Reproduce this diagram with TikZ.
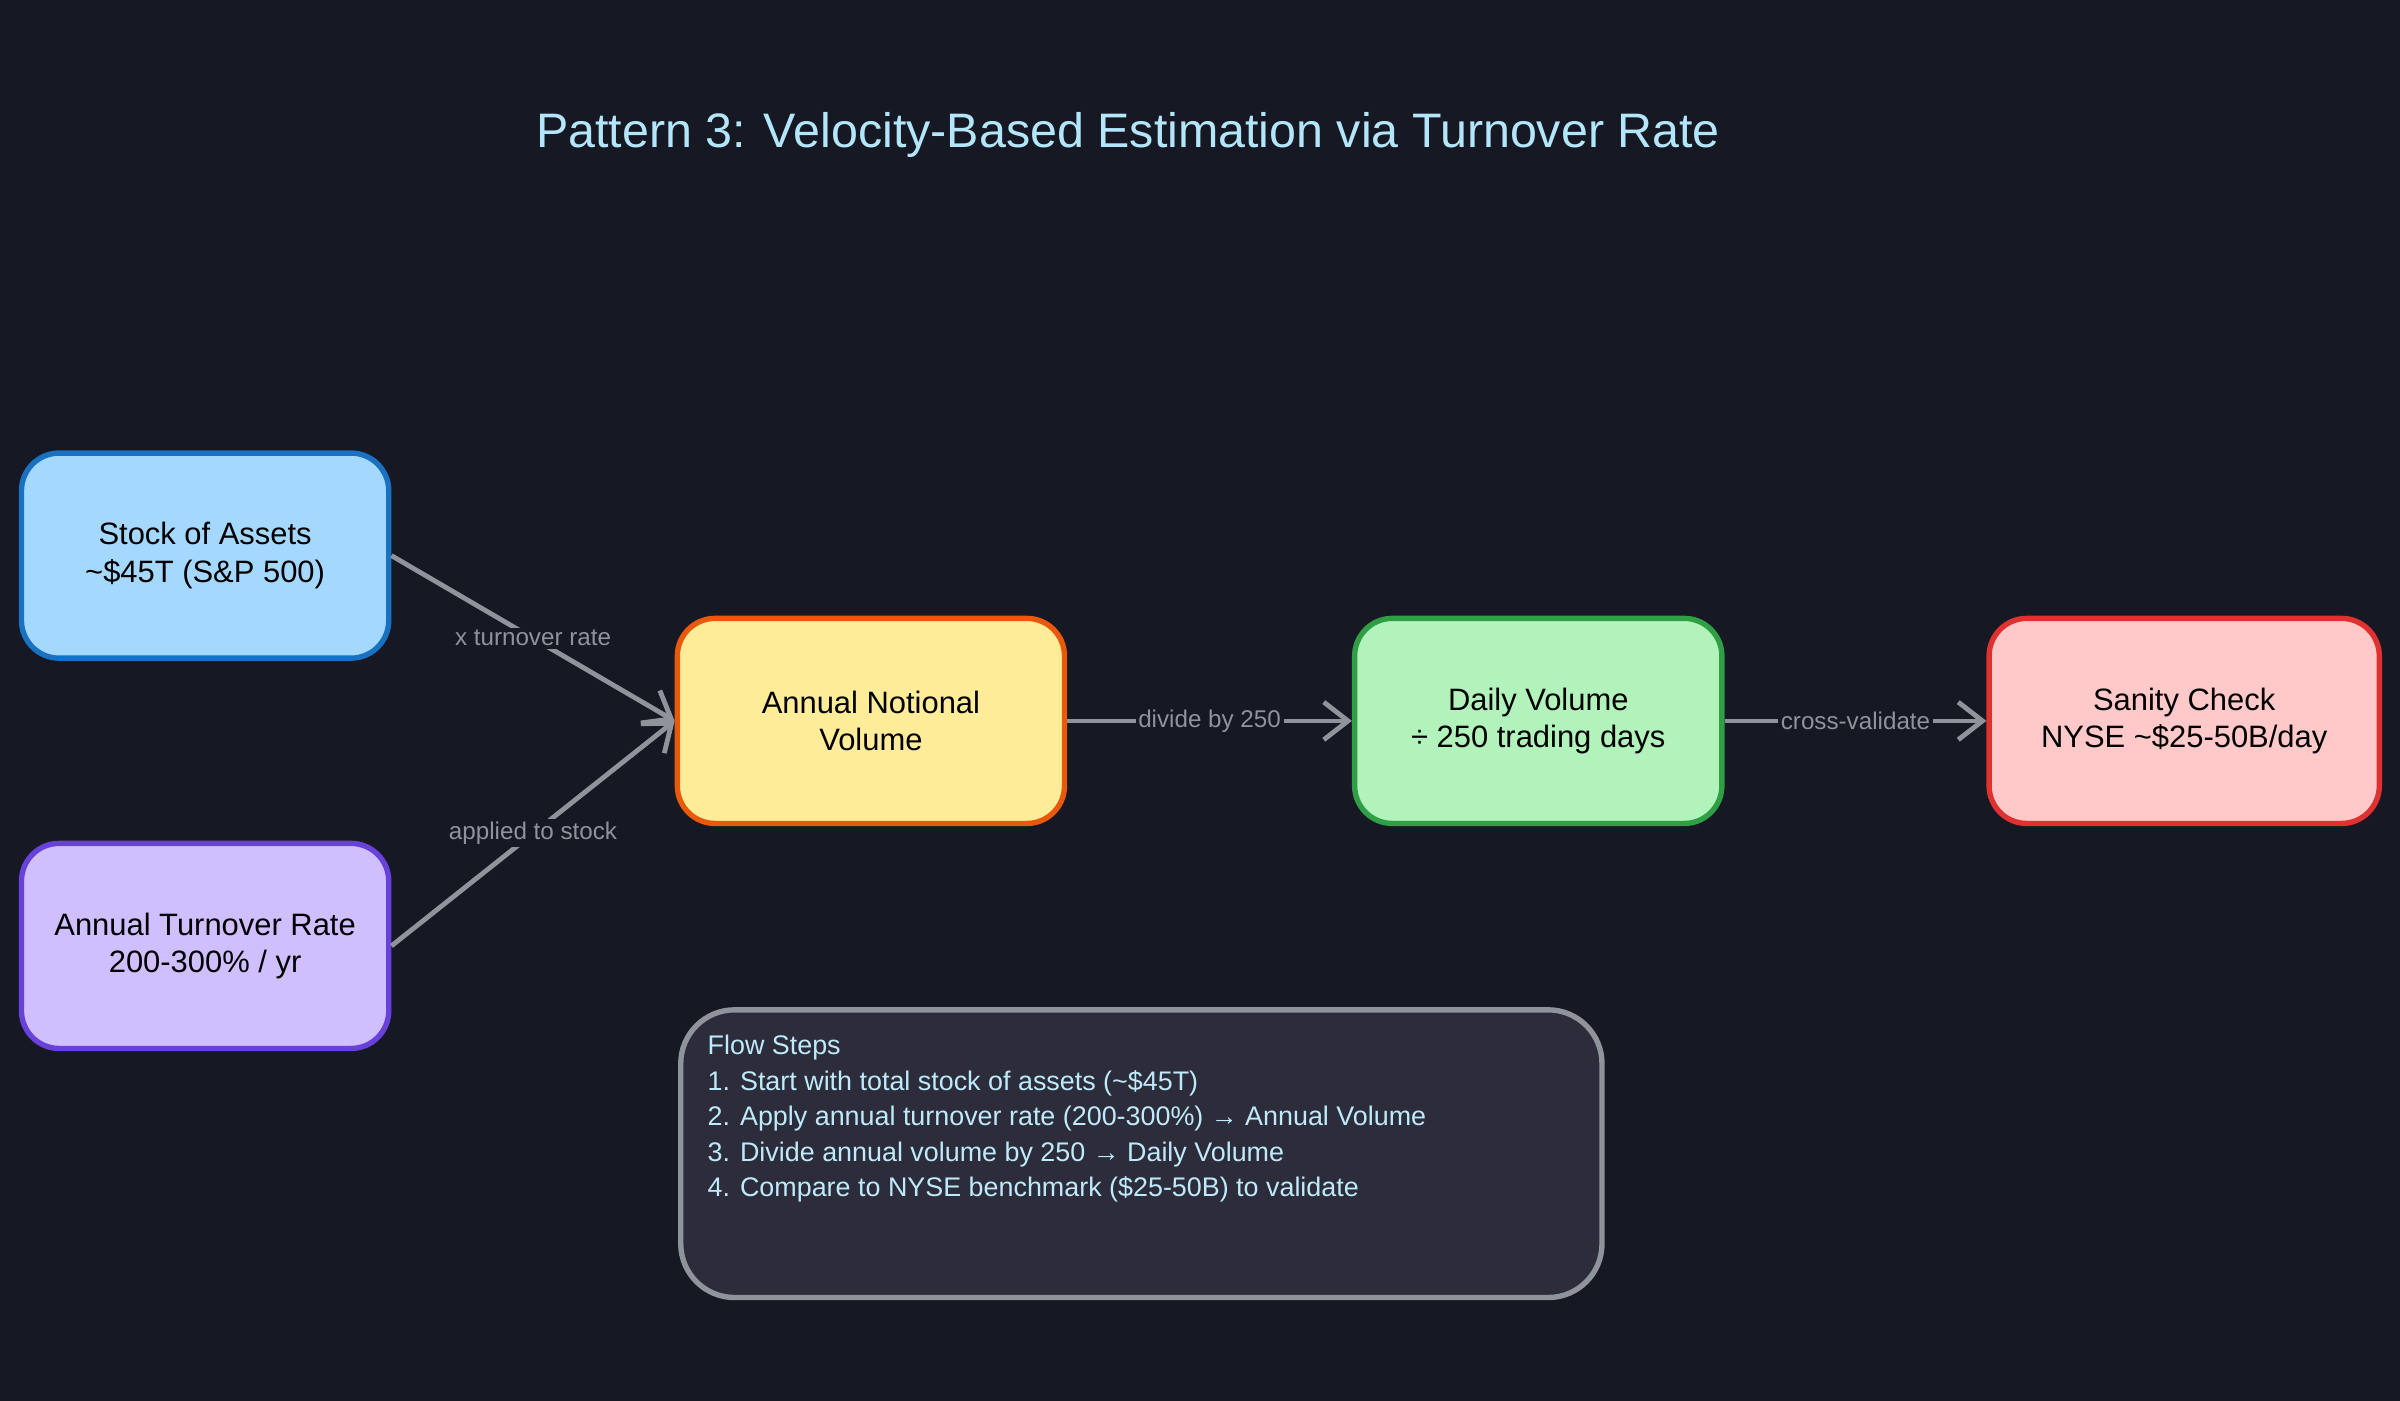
\documentclass[tikz,border=0pt]{standalone}
\usepackage{fontspec}
\setmainfont{Liberation Sans}
\usetikzlibrary{arrows.meta}
\definecolor{bg}{HTML}{161823}
\definecolor{edge}{HTML}{8E939C}
\begin{document}
\begin{tikzpicture}[x=0.02cm,y=-0.02cm,
 box/.style={draw,line width=2pt,rounded corners=14pt,minimum width=4.8cm,minimum height=2.68cm,align=center,font=\fontsize{11.5}{14}\selectfont,text=black},
 conn/.style={draw=edge,line width=1.8pt,-{Straight Barb[length=9pt,width=14pt]}},
 lab/.style={fill=bg,text=edge,font=\fontsize{9}{11}\selectfont,inner sep=1pt}]
\fill[bg] (0,0) rectangle (1568,915);
\node[text=cyan!30!white, font=\fontsize{18}{22}\selectfont] (title) at (737,88) {Pattern 3: Velocity-Based Estimation via Turnover Rate};
\node[box,fill={rgb,255:red,165;green,216;blue,255},draw={rgb,255:red,25;green,113;blue,194}] (stock) at (134,363) {Stock of Assets\\\textasciitilde\$45T (S\&P 500)};
\node[box,fill={rgb,255:red,208;green,191;blue,255},draw={rgb,255:red,103;green,65;blue,217}] (turn) at (134,618) {Annual Turnover Rate\\200-300\% / yr};
\node[box,minimum width=5.06cm,fill={rgb,255:red,255;green,236;blue,153},draw={rgb,255:red,232;green,89;blue,12}] (annual) at (569,471) {Annual Notional\\Volume};
\node[box,fill={rgb,255:red,178;green,242;blue,187},draw={rgb,255:red,47;green,158;blue,68}] (daily) at (1005,471) {Daily Volume\\÷ 250 trading days};
\node[box,minimum width=5.1cm,fill={rgb,255:red,255;green,201;blue,201},draw={rgb,255:red,224;green,49;blue,49}] (sanity) at (1427,471) {Sanity Check\\NYSE \textasciitilde\$25-50B/day};
\node[draw=edge,line width=2pt,rounded corners=20pt,fill={rgb,255:red,44;green,44;blue,58},minimum width=12.04cm,minimum height=3.76cm,anchor=north west,inner sep=0pt] (flow) at (443,658) {};
\node[anchor=north west,align=left,text=cyan!25!white,font=\fontsize{10}{13.2}\selectfont,inner sep=0pt] (steps) at (462,676) {Flow Steps\\1. Start with total stock of assets (\textasciitilde\$45T)\\2. Apply annual turnover rate (200-300\%) → Annual Volume\\3. Divide annual volume by 250 → Daily Volume\\4. Compare to NYSE benchmark (\$25-50B) to validate};
\draw[conn] (stock.east) -- node[lab,pos=0.5]{x turnover rate} (annual.west);
\draw[conn] (turn.east) -- node[lab,pos=0.5]{applied to stock} (annual.west);
\draw[conn] (annual) -- node[lab]{divide by 250} (daily);
\draw[conn] (daily) -- node[lab]{cross-validate} (sanity);
\end{tikzpicture}
\end{document}
